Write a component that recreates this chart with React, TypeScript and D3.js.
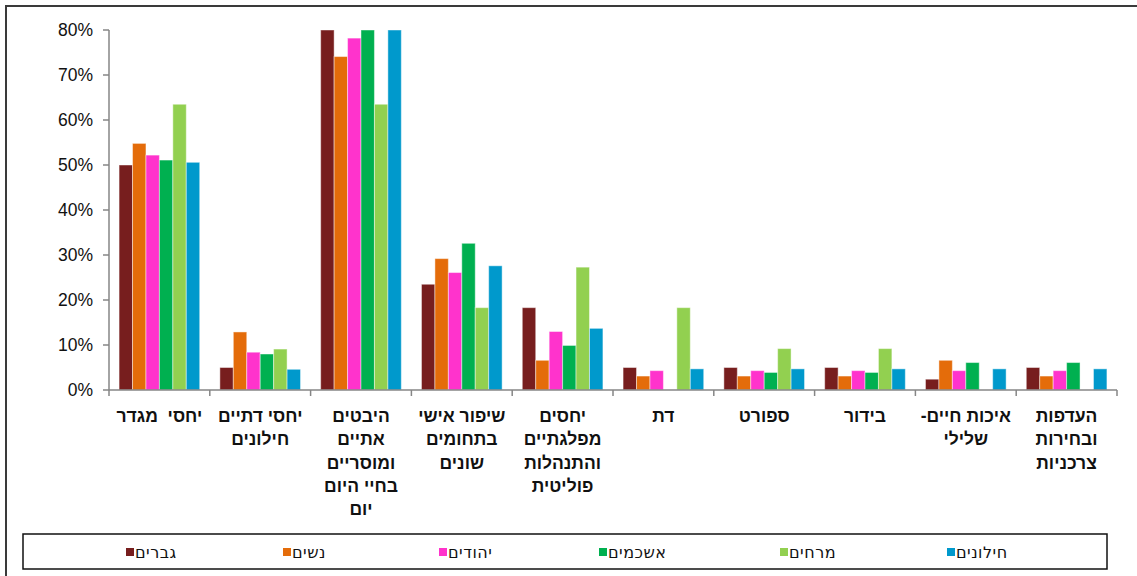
import React from "react";
import * as d3 from "d3";

const categories: string[][] = [
  ["יחסי  מגדר"],
  ["יחסי דתיים", "חילונים"],
  ["היבטים", "אתיים", "ומוסריים", "בחיי היום", "יום"],
  ["שיפור אישי", "בתחומים", "שונים"],
  ["יחסים", "מפלגתיים", "והתנהלות", "פוליטית"],
  ["דת"],
  ["ספורט"],
  ["בידור"],
  ["איכות חיים-", "שלילי"],
  ["העדפות", "ובחירות", "צרכניות"],
];

const seriesNames = ["גברים", "נשים", "יהודים", "אשכמים", "מרחים", "חילונים"];
const seriesColors = ["#771E1E", "#E46C0A", "#FF33CC", "#00B050", "#92D050", "#0099CC"];

const men = [50.0, 5.0, 80, 23.5, 18.3, 5.0, 5.0, 5.0, 2.4, 5.0];
const women = [54.8, 12.9, 74.1, 29.2, 6.6, 3.1, 3.1, 3.1, 6.6, 3.1];
const jews = [52.2, 8.4, 78.2, 26.1, 13.0, 4.3, 4.3, 4.3, 4.3, 4.3];
const ashkenazim = [51.1, 8.0, 80, 32.6, 9.9, 0, 3.9, 3.9, 6.1, 6.1];
const mizrahim = [63.5, 9.1, 63.5, 18.3, 27.3, 18.3, 9.2, 9.2, 0, 0];
const seculars = [50.6, 4.6, 80, 27.6, 13.7, 4.7, 4.7, 4.7, 4.7, 4.7];

const seriesValues = [men, women, jews, ashkenazim, mizrahim, seculars];
const yTicks = [0, 10, 20, 30, 40, 50, 60, 70, 80];

const W = 1137;
const H = 576;
const left = 109;
const right = 1117;
const top = 30;
const bottom = 390;

export default function App() {
  const idx = categories.map((_, i) => String(i));
  const x = d3.scaleBand<string>().domain(idx).range([left, right]).paddingInner(0).paddingOuter(0);
  const inner = d3
    .scaleBand<string>()
    .domain(seriesNames)
    .range([0, x.bandwidth()])
    .paddingInner(0)
    .paddingOuter(0.75);
  const y = d3.scaleLinear().domain([0, 80]).range([bottom, top]).clamp(true);

  const axisColor = "#868686";
  const legendX = [126, 283, 439, 599, 780, 947];

  return (
    <svg
      width={W}
      height={H}
      style={{ position: "fixed", left: 0, top: 0, background: "#fff" }}
      fontFamily="'Liberation Sans', Arial, sans-serif"
    >
      <rect x={0} y={0} width={W} height={H} fill="#fff" />
      <rect x={6} y={6} width={W + 10} height={H + 10} fill="none" stroke="#3a3a3a" strokeWidth={2} />

      {/* bars */}
      {seriesValues.map((vals, s) =>
        vals.map((v, i) => {
          if (v <= 0) return null;
          const bx = (x(String(i)) as number) + (inner(seriesNames[s]) as number);
          const by = y(v);
          return (
            <rect
              key={`${s}-${i}`}
              x={bx}
              y={by}
              width={inner.bandwidth()}
              height={bottom - by}
              fill={seriesColors[s]}
              stroke="#ffffff"
              strokeOpacity={0.45}
              strokeWidth={1}
            />
          );
        })
      )}

      {/* y axis */}
      <line x1={left} x2={left} y1={top} y2={bottom} stroke={axisColor} strokeWidth={1.5} />
      {yTicks.map((t) => (
        <g key={t}>
          <line x1={left - 6} x2={left} y1={y(t)} y2={y(t)} stroke={axisColor} strokeWidth={1.5} />
          <text x={93} y={y(t)} dy="0.36em" textAnchor="end" fontSize={17.5} fill="#111">
            {t}%
          </text>
        </g>
      ))}

      {/* x axis */}
      <line x1={left} x2={right} y1={bottom} y2={bottom} stroke={axisColor} strokeWidth={1.5} />
      {[...idx.map((d) => x(d) as number), right].map((px, k) => (
        <line key={k} x1={px} x2={px} y1={bottom} y2={bottom + 6} stroke={axisColor} strokeWidth={1.5} />
      ))}
      {categories.map((lines, i) => {
        const cx = (x(String(i)) as number) + x.bandwidth() / 2;
        return (
          <text
            key={i}
            textAnchor="middle"
            direction="rtl"
            fontSize={17.5}
            fontWeight="bold"
            fill="#111"
            style={{ whiteSpace: "pre" }}
          >
            {lines.map((ln, j) => (
              <tspan key={j} x={cx} y={422 + j * 23.3}>
                {ln}
              </tspan>
            ))}
          </text>
        );
      })}

      {/* legend */}
      <rect x={23} y={534} width={1084} height={35} fill="#fff" stroke="#111" strokeWidth={1.5} />
      {seriesNames.map((n, s) => (
        <g key={n}>
          <rect x={legendX[s]} y={548} width={8} height={8} fill={seriesColors[s]} />
          <text
            x={legendX[s] + 9}
            y={557.5}
            fontSize={16}
            letterSpacing={0.5}
            fontFamily="'DejaVu Sans', sans-serif"
            fill="#111"
          >
            {n}
          </text>
        </g>
      ))}
    </svg>
  );
}
